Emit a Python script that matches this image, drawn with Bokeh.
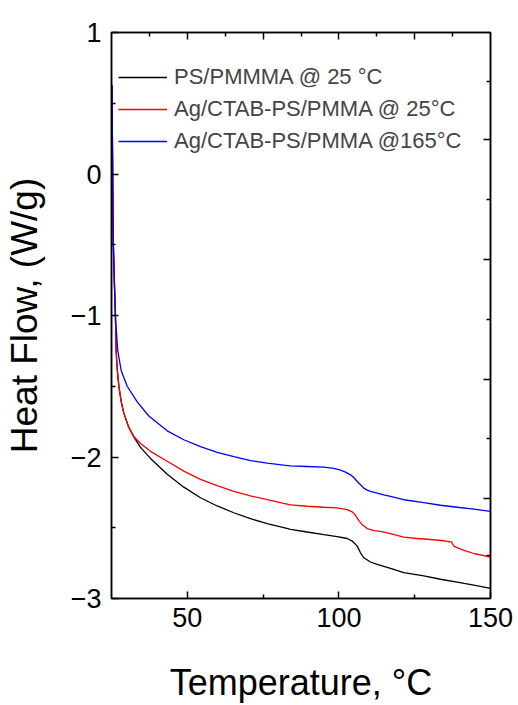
from bokeh.plotting import figure
from bokeh.models import (LinearAxis, FixedTicker, Range1d, Legend, LegendItem)
from bokeh.embed import file_html
from bokeh.resources import INLINE

# ---- data ----
temp_black = [25.16, 25.33, 25.56, 25.99, 26.32, 26.55, 26.88, 27.41, 28.2, 29.06,
              30.6, 32.35, 34.56, 37.86, 43.37, 48.85, 54.35, 59.86, 65.34, 70.84,
              76.35, 81.83, 84.04, 89.54, 95.02, 99.44, 102.74, 104.39, 106.04, 107.12,
              108.21, 110.42, 112.63, 117.02, 121.4, 128.0, 133.51, 139.02, 144.49, 150.0]
heat_black = [0.627, 0.170, -0.462, -0.793, -1.025, -1.257, -1.376, -1.496, -1.608, -1.69,
              -1.785, -1.858, -1.932, -2.01, -2.122, -2.213, -2.288, -2.346, -2.394, -2.436,
              -2.471, -2.499, -2.511, -2.53, -2.548, -2.562, -2.576, -2.594, -2.630, -2.677,
              -2.712, -2.742, -2.759, -2.787, -2.817, -2.840, -2.864, -2.885, -2.906, -2.928]

temp_red = [25.16, 25.33, 25.56, 25.99, 26.32, 26.55, 26.88, 27.41, 28.2, 29.06,
            30.6, 32.35, 34.56, 37.86, 43.37, 48.85, 54.35, 59.86, 65.34, 70.84,
            76.35, 81.83, 84.04, 89.54, 95.02, 99.44, 102.74, 104.39, 105.48, 106.57,
            107.69, 109.34, 111.52, 113.73, 117.02, 121.4, 125.82, 130.21, 134.6, 136.58,
            137.14, 137.47, 137.91, 139.02, 141.23, 144.52, 150.0]
heat_red = [0.627, 0.170, -0.462, -0.793, -1.025, -1.257, -1.376, -1.496, -1.608, -1.69,
            -1.785, -1.855, -1.905, -1.96, -2.03, -2.1, -2.158, -2.203, -2.243, -2.274,
            -2.302, -2.328, -2.338, -2.348, -2.355, -2.360, -2.372, -2.388, -2.412, -2.45,
            -2.478, -2.506, -2.520, -2.526, -2.542, -2.566, -2.576, -2.583, -2.592, -2.599,
            -2.600, -2.613, -2.630, -2.641, -2.660, -2.682, -2.707]

temp_blue = [25.16, 25.33, 25.56, 25.99, 26.32, 27.08, 28.2, 30.18, 33.48, 37.3,
             43.37, 48.85, 54.35, 59.86, 65.34, 70.84, 76.35, 81.83, 84.04, 89.54,
             95.02, 98.32, 100.53, 102.18, 103.83, 104.91, 106.04, 107.12, 108.21, 109.33,
             110.42, 112.63, 114.81, 117.02, 121.4, 128.0, 133.51, 139.02, 144.49, 150.0]
heat_blue = [0.627, 0.170, -0.462, -0.793, -1.025, -1.25, -1.39, -1.5, -1.61, -1.71,
             -1.815, -1.878, -1.927, -1.967, -1.997, -2.025, -2.044, -2.058, -2.063, -2.067,
             -2.072, -2.081, -2.093, -2.107, -2.126, -2.145, -2.173, -2.196, -2.220, -2.234,
             -2.243, -2.255, -2.267, -2.278, -2.302, -2.323, -2.341, -2.355, -2.369, -2.384]

series_labels = ["PS/PMMMA @ 25 \u00b0C", "Ag/CTAB-PS/PMMA @ 25\u00b0C", "Ag/CTAB-PS/PMMA @165\u00b0C"]
series_colors = ["#000000", "#ff0000", "#0000ff"]

x_title = "Temperature, \u00b0C"
y_title = "Heat Flow, (W/g)"

x_major = [50, 100, 150]
x_minor = [75, 125]
y_major = [1, 0, -1, -2, -3]
y_minor = [0.5, -0.5, -1.5, -2.5]
top_major = [50, 75, 100, 125]
top_minor = [37.5, 62.5, 87.5, 112.5, 137.5]
right_major = [0.241, -0.603, -1.453, -2.29]
right_minor = [0.656, -0.181, -1.025, -1.868, -2.698]

FONT = "Liberation Sans"

p = figure(width=518, height=705, x_range=Range1d(25, 150), y_range=Range1d(-3, 1),
           output_backend="svg", toolbar_location=None,
           min_border_left=111, min_border_right=28, min_border_top=32, min_border_bottom=104,
           x_axis_type=None, y_axis_type=None)
p.grid.visible = False
p.outline_line_color = "black"
p.outline_line_width = 1.5
p.background_fill_color = "white"
p.border_fill_color = "white"


def style(ax, label_size="27px"):
    ax.axis_line_width = 1.5
    ax.major_tick_line_width = 1.5
    ax.minor_tick_line_width = 1.5
    ax.major_tick_in = 7
    ax.major_tick_out = 0
    ax.minor_tick_in = 4
    ax.minor_tick_out = 0
    ax.major_label_text_font = FONT
    ax.major_label_text_font_size = label_size
    ax.major_label_text_color = "black"
    ax.axis_label_text_font = FONT
    ax.axis_label_text_font_style = "normal"
    ax.axis_label_text_color = "black"


xb = LinearAxis(ticker=FixedTicker(ticks=x_major, minor_ticks=x_minor))
style(xb)
xb.major_label_standoff = 9
xb.axis_label = x_title
xb.axis_label_text_font_size = "36px"
xb.axis_label_standoff = 32
p.add_layout(xb, "below")

yl = LinearAxis(ticker=FixedTicker(ticks=y_major, minor_ticks=y_minor))
style(yl)
yl.major_label_standoff = 10
yl.axis_label = y_title
yl.axis_label_text_font_size = "37px"
yl.axis_label_standoff = 23
p.add_layout(yl, "left")

xt = LinearAxis(ticker=FixedTicker(ticks=top_major, minor_ticks=top_minor),
                major_label_overrides={t: "" for t in top_major})
style(xt, "1px")
p.add_layout(xt, "above")

p.extra_y_ranges = {"r": Range1d(-3, 1)}
yr = LinearAxis(y_range_name="r", ticker=FixedTicker(ticks=right_major, minor_ticks=right_minor),
                major_label_overrides={t: "" for t in right_major})
style(yr, "1px")
p.add_layout(yr, "right")

renderers = []
for tx, hy, col in [(temp_black, heat_black, series_colors[0]),
                    (temp_red, heat_red, series_colors[1]),
                    (temp_blue, heat_blue, series_colors[2])]:
    renderers.append(p.line(tx, hy, line_color=col, line_width=1.3))

# one legend box per entry (rows 32 px apart)
for i, (lab, r) in enumerate(zip(series_labels, renderers)):
    lg = Legend(items=[LegendItem(label=lab, renderers=[r])],
                location=(7, 505 - 32 * i))
    lg.padding = 0
    lg.margin = 0
    lg.spacing = 0
    lg.label_height = 32
    lg.glyph_height = 32
    lg.glyph_width = 49
    lg.label_standoff = 7
    lg.label_text_font = FONT
    lg.label_text_font_size = "22px"
    lg.border_line_color = None
    lg.background_fill_alpha = 0
    p.add_layout(lg)

open("out.html", "w").write(file_html(p, INLINE))
